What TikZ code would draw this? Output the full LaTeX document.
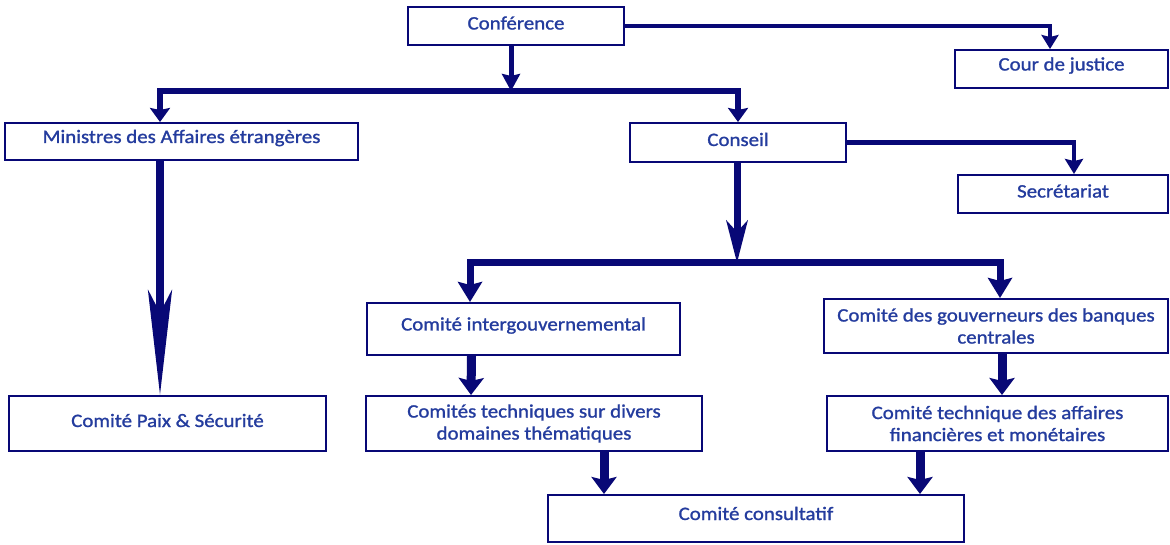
\documentclass[tikz,border=0pt]{standalone}
\usepackage{fontspec}
\setmainfont{Carlito}[FakeStretch=1.1,FakeBold=1.2]
\usetikzlibrary{arrows.meta}
\definecolor{linec}{RGB}{8,8,118}
\definecolor{txtc}{RGB}{36,60,158}
\begin{document}
\begin{tikzpicture}[x=1pt,y=-1pt,
  box/.style={draw=linec, line width=2pt, fill=white, text=txtc, inner sep=0pt,
    align=center, font=\fontsize{19}{22}\selectfont},
  oneline/.style={text height=13pt, text depth=10pt},
  midline/.style={text height=13pt, text depth=6pt},
  conn/.style={draw=linec, line width=#1, line join=miter},
  conn/.default=5pt,
  tipS/.style={-{Stealth[length=14pt,width=17pt,inset=2pt]}},
  tipM/.style={-{Stealth[length=17pt,width=25pt,inset=3pt]}},
  tipL/.style={-{Stealth[length=42pt,width=21pt,inset=11pt]}},
  tipXL/.style={-{Stealth[length=105pt,width=24pt,inset=23pt]}}
]
\useasboundingbox[fill=white] (0,0) rectangle (1170,545);

% boxes
\node[box, midline, minimum width=216pt, minimum height=38pt] (conf) at (516,26) {Conférence};
\node[box, oneline, minimum width=213pt, minimum height=38pt] (cour) at (1061.5,69) {Cour de justice};
\node[box, oneline, minimum width=353pt, minimum height=37pt] (mini) at (181.5,141.5) {Ministres des Affaires étrangères};
\node[box, midline, minimum width=216pt, minimum height=39pt] (conseil) at (738,142.5) {Conseil};
\node[box, midline, minimum width=210pt, minimum height=38pt] (secr) at (1063,194) {Secrétariat};
\node[box, oneline, minimum width=313pt, minimum height=52pt] (interg) at (523.5,329) {Comité intergouvernemental};
\node[box, minimum width=344pt, minimum height=54pt] (gouv) at (996,326) {Comité des gouverneurs des banques\\centrales};
\node[box, midline, minimum width=317pt, minimum height=55pt] (paix) at (167.5,423.5) {Comité Paix \& Sécurité};
\node[box, minimum width=336pt, minimum height=55pt] (tech) at (534,423.5) {Comités techniques sur divers\\domaines thématiques};
\node[box, minimum width=341pt, minimum height=55pt] (techfin) at (997.5,423.5) {Comité technique des affaires\\financières et monétaires};
\node[box, oneline, minimum width=416pt, minimum height=47pt] (cons) at (756,518.5) {Comité consultatif};

% junction points on the distribution bars
\coordinate (bar1) at (511,91);
\coordinate (bar2) at (737,263);

% Conférence
\draw[conn=4pt, tipS] (conf.east) -| ([xshift=-11.5pt]cour.north);
\draw[conn=5pt, -{Stealth[length=17pt,width=18pt,inset=2pt]}] ([xshift=-5pt]conf.south) -- (bar1);
\draw[conn=5.5pt, {Stealth[length=14pt,width=20pt,inset=2pt]}-{Stealth[length=14pt,width=20pt,inset=2pt]}]
  ([xshift=-21.5pt]mini.north) |- (bar1) -| (conseil.north);

% Ministres
\draw[conn=8pt, tipXL] ([xshift=-21.5pt]mini.south) -- ([xshift=-7.5pt]paix.north);

% Conseil
\draw[conn=4.5pt, -{Stealth[length=15pt,width=18pt,inset=2pt]}] (conseil.east) -| ([xshift=11pt]secr.north);
\draw[conn=7pt, tipL] ([xshift=-1pt]conseil.south) -- (bar2);
\draw[conn=7pt, {Stealth[length=20pt,width=24pt,inset=3pt]}-{Stealth[length=20pt,width=24pt,inset=3pt]}]
  ([xshift=-53.5pt]interg.north) |- (bar2) -| ([xshift=4pt]gouv.north);

% committees
\draw[conn=9pt, tipM] ([xshift=-52pt]interg.south) -- ([xshift=-63pt]tech.north);
\draw[conn=9pt, tipM] ([xshift=6pt]gouv.south) -- ([xshift=4.5pt]techfin.north);
\draw[conn=9pt, tipM] ([xshift=70pt]tech.south) -- ([xshift=-152pt]cons.north);
\draw[conn=9pt, tipM] ([xshift=-77.5pt]techfin.south) -- ([xshift=164pt]cons.north);
\end{tikzpicture}
\end{document}
